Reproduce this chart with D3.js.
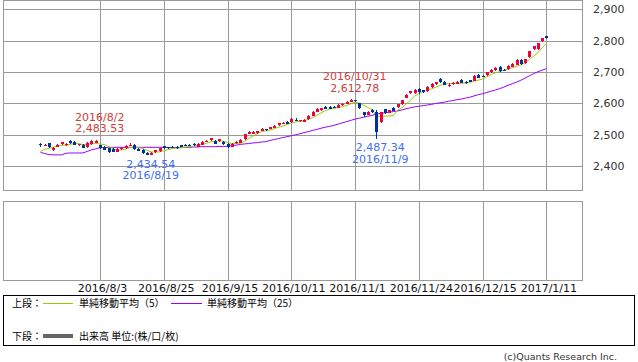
<!DOCTYPE html>
<meta charset="utf-8">
<script src="https://d3js.org/d3.v7.min.js"></script>
<style>
  body { margin: 0; background: #fff; }
  text { font-family: "DejaVu Sans", sans-serif; }
  .jp { font-family: "Noto Sans CJK JP", sans-serif; }
</style>
<div id="chart"></div>
<script>
  // trading days shown on the chart
  var dates = [
    "2016/7/13", "2016/7/14", "2016/7/15", "2016/7/19", "2016/7/20", "2016/7/21", "2016/7/22", "2016/7/25", "2016/7/26", "2016/7/27", "2016/7/28", "2016/7/29",
    "2016/8/1", "2016/8/2", "2016/8/3", "2016/8/4", "2016/8/5", "2016/8/8", "2016/8/9", "2016/8/10", "2016/8/12", "2016/8/15", "2016/8/16", "2016/8/17", "2016/8/18", "2016/8/19", "2016/8/22", "2016/8/23", "2016/8/24", "2016/8/25", "2016/8/26", "2016/8/29", "2016/8/30", "2016/8/31",
    "2016/9/1", "2016/9/2", "2016/9/5", "2016/9/6", "2016/9/7", "2016/9/8", "2016/9/9", "2016/9/12", "2016/9/13", "2016/9/14", "2016/9/15", "2016/9/16", "2016/9/20", "2016/9/21", "2016/9/23", "2016/9/26", "2016/9/27", "2016/9/28", "2016/9/29", "2016/9/30",
    "2016/10/3", "2016/10/4", "2016/10/5", "2016/10/6", "2016/10/7", "2016/10/11", "2016/10/12", "2016/10/13", "2016/10/14", "2016/10/17", "2016/10/18", "2016/10/19", "2016/10/20", "2016/10/21", "2016/10/24", "2016/10/25", "2016/10/26", "2016/10/27", "2016/10/28", "2016/10/31",
    "2016/11/1", "2016/11/2", "2016/11/4", "2016/11/7", "2016/11/8", "2016/11/9", "2016/11/10", "2016/11/11", "2016/11/14", "2016/11/15", "2016/11/16", "2016/11/17", "2016/11/18", "2016/11/21", "2016/11/22", "2016/11/24", "2016/11/25", "2016/11/28", "2016/11/29", "2016/11/30",
    "2016/12/1", "2016/12/2", "2016/12/5", "2016/12/6", "2016/12/7", "2016/12/8", "2016/12/9", "2016/12/12", "2016/12/13", "2016/12/14", "2016/12/15", "2016/12/16", "2016/12/19", "2016/12/20", "2016/12/21", "2016/12/22", "2016/12/26", "2016/12/27", "2016/12/28", "2016/12/29", "2016/12/30",
    "2017/1/4", "2017/1/5", "2017/1/6", "2017/1/10", "2017/1/11"
  ];

  var open = [
    2470, 2465, 2473, 2454, 2463, 2470, 2468, 2481, 2477, 2467, 2468, 2461, 2469, 2475, 2466, 2462, 2457, 2456, 2447, 2455,
    2458, 2466, 2469, 2456, 2452, 2442, 2438, 2445, 2448, 2463, 2460, 2462, 2461, 2467, 2468, 2469, 2471, 2464, 2469, 2478,
    2482, 2481, 2479, 2477, 2471, 2463, 2473, 2475, 2485, 2503, 2505, 2504, 2514, 2517, 2519, 2523, 2529, 2535, 2541, 2540,
    2548, 2543, 2543, 2549, 2562, 2574, 2578, 2589, 2589, 2588, 2587, 2594, 2599, 2605, 2610, 2600, 2572, 2566, 2580, 2574,
    2540, 2581, 2570, 2585, 2586, 2596, 2619, 2632, 2632, 2647, 2642, 2640, 2652, 2661, 2678, 2669, 2657, 2662, 2664, 2675,
    2668, 2674, 2673, 2691, 2688, 2691, 2700, 2707, 2717, 2707, 2710, 2717, 2723, 2739, 2727, 2748, 2771, 2773, 2799, 2814
  ];
  var high = [
    2473, 2470, 2475, 2461, 2471, 2478, 2473, 2483, 2479, 2472, 2470, 2477, 2482, 2483.53, 2468, 2464, 2459, 2458, 2457, 2461,
    2467, 2474, 2471, 2458, 2454, 2444, 2445, 2452, 2459, 2465, 2462, 2465, 2463, 2469, 2470, 2472, 2473, 2474, 2480, 2484,
    2491, 2483, 2487, 2479, 2473, 2473, 2479, 2485, 2504, 2512, 2512, 2513, 2522, 2519, 2526, 2531, 2538, 2541, 2543, 2552,
    2552, 2548, 2550, 2562, 2576, 2584, 2587, 2591, 2592, 2591, 2598, 2600, 2608, 2612.78, 2612, 2602, 2574, 2576, 2582, 2578,
    2574, 2583, 2580, 2589, 2599, 2612, 2629, 2641, 2645, 2649, 2644, 2656, 2664, 2669, 2680, 2671, 2664, 2667, 2671, 2677,
    2670, 2676, 2690, 2693, 2690, 2701, 2709, 2716, 2719, 2709, 2722, 2728, 2741, 2741, 2743, 2768, 2784, 2794, 2810, 2816
  ];
  var low = [
    2462, 2463, 2457, 2448, 2461, 2468, 2465, 2472, 2467, 2464, 2457, 2459, 2467, 2473, 2455, 2450, 2442, 2446, 2445, 2453,
    2456, 2464, 2453, 2449, 2439, 2434.54, 2436, 2443, 2446, 2455, 2455, 2457, 2456, 2460, 2464, 2463, 2465, 2462, 2467, 2476,
    2480, 2470, 2477, 2468, 2459, 2461, 2471, 2473, 2483, 2501, 2503, 2502, 2512, 2511, 2517, 2521, 2527, 2533, 2533, 2538,
    2543, 2541, 2541, 2547, 2560, 2572, 2576, 2581, 2582, 2584, 2585, 2592, 2597, 2603, 2604, 2582, 2556, 2564, 2571, 2487.34,
    2538, 2566, 2568, 2575, 2584, 2594, 2617, 2630, 2630, 2630, 2633, 2638, 2650, 2659, 2665, 2658, 2653, 2660, 2662, 2665,
    2662, 2667, 2671, 2681, 2683, 2689, 2698, 2705, 2700, 2702, 2708, 2715, 2721, 2724, 2725, 2746, 2769, 2771, 2797, 2807
  ];
  var close = [
    2466, 2468, 2459, 2459, 2469, 2476, 2471, 2474, 2469, 2470, 2459, 2475, 2480, 2481, 2457, 2452, 2444, 2448, 2455, 2459,
    2465, 2469, 2455, 2451, 2441, 2437, 2443, 2450, 2457, 2457, 2457, 2460, 2458, 2462, 2466, 2466, 2467, 2472, 2478, 2481,
    2489, 2472, 2485, 2470, 2461, 2471, 2477, 2483, 2502, 2510, 2510, 2511, 2519, 2513, 2524, 2529, 2536, 2538, 2535, 2550,
    2545, 2546, 2548, 2560, 2574, 2582, 2585, 2583, 2584, 2586, 2596, 2598, 2606, 2611, 2607, 2584, 2561, 2574, 2573, 2510,
    2572, 2568, 2578, 2577, 2597, 2610, 2627, 2639, 2643, 2638, 2637, 2654, 2662, 2667, 2667, 2660, 2660, 2665, 2669, 2667,
    2664, 2669, 2688, 2683, 2685, 2699, 2707, 2714, 2704, 2704, 2720, 2726, 2739, 2726, 2741, 2766, 2782, 2792, 2808, 2809
  ];
  // last four closes before the window (needed for the 5-day average)
  var priorClose = [2436, 2439, 2443, 2450];

  // 25-day moving average as drawn on the chart
  var ma25 = [
    2444, 2440, 2437, 2436, 2436, 2436, 2441, 2442, 2442, 2442, 2442, 2447, 2452, 2455, 2459, 2459, 2460, 2460, 2460, 2460,
    2460, 2460, 2460, 2460, 2460, 2460, 2460, 2460, 2460, 2460, 2459, 2459, 2459, 2459, 2460, 2460, 2461, 2461, 2462, 2462,
    2462, 2462, 2463, 2463, 2463, 2465, 2467, 2469, 2471, 2472, 2474, 2475, 2477, 2478, 2482, 2485, 2488, 2491, 2494, 2497,
    2500, 2503, 2507, 2510, 2514, 2517, 2521, 2524, 2527, 2530, 2534, 2538, 2542, 2546, 2550, 2553, 2556, 2559, 2562, 2566,
    2568, 2570, 2572, 2574, 2576, 2579, 2583, 2586, 2589, 2591, 2593, 2595, 2597, 2600, 2602, 2604, 2607, 2609, 2612, 2614,
    2617, 2620, 2624, 2628, 2631, 2635, 2639, 2643, 2647, 2652, 2658, 2663, 2668, 2674, 2681, 2688, 2695, 2701, 2706, 2711
  ];

  var yTicks = [2400, 2500, 2600, 2700, 2800, 2900];
  var xTickLabels = ["2016/8/3", "2016/8/25", "2016/9/15", "2016/10/11", "2016/11/1", "2016/11/24", "2016/12/15", "2017/1/11"];

  // marked highs / lows
  var marks = [
    { date: "2016/8/2", kind: "high" },
    { date: "2016/8/19", kind: "low" },
    { date: "2016/10/31", kind: "high" },
    { date: "2016/11/9", kind: "low" }
  ];

  var W = 638, H = 362;
  var plot = { left: 3.5, right: 582.5, top: 0.5, bottom: 190.5 };
  var vol = { top: 201.5, bottom: 280.5 };

  var svg = d3.select("#chart").append("svg")
    .attr("width", W).attr("height", H);

  var idx = d3.range(dates.length);

  var x = d3.scaleLinear()
    .domain([-8.7, 127.5])
    .range([plot.left, plot.right]);

  var y = d3.scaleLinear()
    .domain([2322.3, 2928.3])
    .range([plot.bottom, plot.top]);

  // 5 day average from the closes
  var allClose = priorClose.concat(close);
  var ma5 = idx.map(function (i) { return d3.mean(allClose.slice(i, i + 5)); });

  var tickIdx = xTickLabels.map(function (d) { return dates.indexOf(d); });

  // grid
  var grid = svg.append("g").attr("stroke", "#999").attr("shape-rendering", "crispEdges");
  grid.selectAll("line.h").data(yTicks).enter().append("line")
    .attr("x1", plot.left).attr("x2", plot.right)
    .attr("y1", function (d) { return Math.round(y(d)) + 0.5; })
    .attr("y2", function (d) { return Math.round(y(d)) + 0.5; });
  grid.selectAll("line.v").data(tickIdx).enter().append("line")
    .attr("x1", function (i) { return Math.round(x(i)) + 0.5; })
    .attr("x2", function (i) { return Math.round(x(i)) + 0.5; })
    .attr("y1", plot.top).attr("y2", plot.bottom);
  grid.selectAll("line.vv").data(tickIdx).enter().append("line")
    .attr("x1", function (i) { return Math.round(x(i)) + 0.5; })
    .attr("x2", function (i) { return Math.round(x(i)) + 0.5; })
    .attr("y1", vol.top).attr("y2", vol.bottom);
  grid.append("rect")
    .attr("x", plot.left).attr("y", plot.top)
    .attr("width", plot.right - plot.left).attr("height", plot.bottom - plot.top)
    .attr("fill", "none");
  grid.append("rect")
    .attr("x", plot.left).attr("y", vol.top)
    .attr("width", plot.right - plot.left).attr("height", vol.bottom - vol.top)
    .attr("fill", "none");

  // y axis on the right
  var yAxis = svg.append("g")
    .attr("transform", "translate(590,0)")
    .call(d3.axisRight(y).tickValues(yTicks).tickSize(0).tickPadding(3).tickFormat(d3.format(",")));
  yAxis.select(".domain").remove();
  yAxis.selectAll("text").attr("font-size", 11).attr("fill", "#333")
    .style("font-family", "DejaVu Sans");

  // x axis under the volume panel
  var xAxis = svg.append("g")
    .attr("transform", "translate(2," + (vol.bottom - 0.5) + ")")
    .call(d3.axisBottom(x).tickValues(tickIdx).tickSize(0).tickPadding(4)
      .tickFormat(function (i) { return dates[i]; }));
  xAxis.select(".domain").remove();
  xAxis.selectAll("text").attr("font-size", 11).attr("fill", "#111")
    .style("font-family", "DejaVu Sans");

  // moving averages
  var line = function (vals) {
    return d3.line()
      .x(function (i) { return x(i); })
      .y(function (i) { return y(vals[i]); })(idx);
  };
  svg.append("path").attr("d", line(ma25))
    .attr("fill", "none").attr("stroke", "#9900ff").attr("stroke-width", 1);
  svg.append("path").attr("d", line(ma5))
    .attr("fill", "none").attr("stroke", "#99cc00").attr("stroke-width", 1);

  // candles
  var upCol = "#f0003c", downCol = "#003399";
  var candles = svg.append("g").attr("shape-rendering", "crispEdges");
  candles.selectAll("line").data(idx).enter().append("line")
    .attr("x1", function (i) { return Math.round(x(i)) + 0.5; })
    .attr("x2", function (i) { return Math.round(x(i)) + 0.5; })
    .attr("y1", function (i) { return y(high[i]); })
    .attr("y2", function (i) { return y(low[i]); })
    .attr("stroke", function (i) { return close[i] >= open[i] ? upCol : downCol; });
  candles.selectAll("rect").data(idx).enter().append("rect")
    .attr("x", function (i) { return Math.round(x(i)) - 1; })
    .attr("y", function (i) { return Math.round(y(Math.max(open[i], close[i]))); })
    .attr("width", 3)
    .attr("height", function (i) { return Math.max(1, Math.round(Math.abs(y(open[i]) - y(close[i])))); })
    .attr("fill", function (i) { return close[i] >= open[i] ? upCol : downCol; });

  // high / low annotations
  var fmt = d3.format(",.2f");
  marks.forEach(function (m) {
    var i = dates.indexOf(m.date);
    var cx = x(i) + 4;
    var g = svg.append("g").attr("font-size", 11).attr("text-anchor", "middle");
    if (m.kind === "high") {
      var yy = y(high[i]) - 7.5;
      g.attr("fill", "#d0403c");
      g.append("text").attr("x", cx).attr("y", yy - 11.5).text(m.date);
      g.append("text").attr("x", cx).attr("y", yy).text(fmt(high[i]));
    } else {
      var yl = y(low[i]) + 12.5;
      g.attr("fill", "#3f6ff0");
      g.append("text").attr("x", cx).attr("y", yl).text(fmt(low[i]));
      g.append("text").attr("x", cx).attr("y", yl + 11.5).text(m.date);
    }
  });

  // legend box
  var lg = svg.append("g");
  lg.append("rect")
    .attr("x", 3.5).attr("y", 295.5).attr("width", 631).attr("height", 50)
    .attr("fill", "none").attr("stroke", "#000").attr("shape-rendering", "crispEdges");
  lg.append("text").attr("class", "jp").attr("x", 12).attr("y", 307).attr("font-size", 10).text("上段：");
  lg.append("line").attr("x1", 43).attr("x2", 73).attr("y1", 303.5).attr("y2", 303.5)
    .attr("stroke", "#99cc00");
  lg.append("text").attr("class", "jp").attr("x", 79).attr("y", 307).attr("font-size", 10).text("単純移動平均（5）");
  lg.append("line").attr("x1", 171).attr("x2", 202).attr("y1", 303.5).attr("y2", 303.5)
    .attr("stroke", "#9900ff");
  lg.append("text").attr("class", "jp").attr("x", 207).attr("y", 307).attr("font-size", 10).text("単純移動平均（25）");
  lg.append("text").attr("class", "jp").attr("x", 12).attr("y", 340).attr("font-size", 10).text("下段：");
  lg.append("line").attr("x1", 43).attr("x2", 73).attr("y1", 336).attr("y2", 336)
    .attr("stroke", "#666").attr("stroke-width", 4);
  lg.append("text").attr("class", "jp").attr("x", 79).attr("y", 340).attr("font-size", 10).text("出来高 単位:(株/口/枚)");

  svg.append("text")
    .attr("x", 617).attr("y", 360).attr("text-anchor", "end")
    .attr("font-size", 9.5).attr("fill", "#333")
    .text("(c)Quants Research Inc.");
</script>
